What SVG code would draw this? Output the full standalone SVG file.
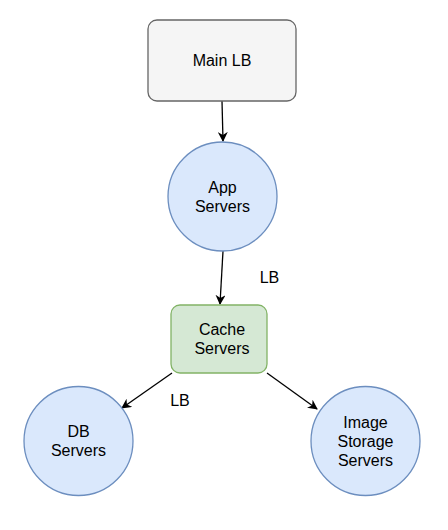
<svg xmlns="http://www.w3.org/2000/svg" width="448" height="530" viewBox="0 0 448 530">
<defs>
<style>
text{font-family:"Liberation Sans",Arial,sans-serif;font-size:16px;fill:#000;text-anchor:middle}
.c{fill:#dae8fc;stroke:#6c8ebf;stroke-width:1.3}
.e{stroke:#000;stroke-width:1.3;fill:none;marker-end:url(#a)}
</style>
<marker id="a" viewBox="0 0 10 10" refX="9" refY="5" markerWidth="10" markerHeight="10" markerUnits="userSpaceOnUse" orient="auto">
<path d="M0,0 L10,5 L0,10 L3,5 Z" fill="#000"/>
</marker>
</defs>
<rect width="448" height="530" fill="#fff"/>
<g id="edges">
<path class="e" d="M222,101 L223,141"/>
<path class="e" d="M223,251 L220,304"/>
<path class="e" d="M172,373 L122,408"/>
<path class="e" d="M267,373 L317,409"/>
<text x="269.5" y="282.5">LB</text>
<text x="180" y="406">LB</text>
</g>
<g id="mainlb">
<rect x="148" y="20" width="148" height="81" rx="9" fill="#f5f5f5" stroke="#666" stroke-width="1.3"/>
<text x="222" y="66">Main LB</text>
</g>
<g id="app">
<circle class="c" cx="222.5" cy="196.5" r="54.5"/>
<text x="222.5" y="193">App</text>
<text x="222.5" y="211.5">Servers</text>
</g>
<g id="cache">
<rect x="171" y="305" width="96" height="68" rx="9" fill="#d5e8d4" stroke="#82b366" stroke-width="1.3"/>
<text x="222" y="335">Cache</text>
<text x="222" y="354">Servers</text>
</g>
<g id="db">
<circle class="c" cx="78.5" cy="441" r="54.5"/>
<text x="78.5" y="437">DB</text>
<text x="78.5" y="455.5">Servers</text>
</g>
<g id="image">
<circle class="c" cx="365.5" cy="441" r="54.5"/>
<text x="365.5" y="427.5">Image</text>
<text x="365.5" y="446.5">Storage</text>
<text x="365.5" y="465.5">Servers</text>
</g>
</svg>
